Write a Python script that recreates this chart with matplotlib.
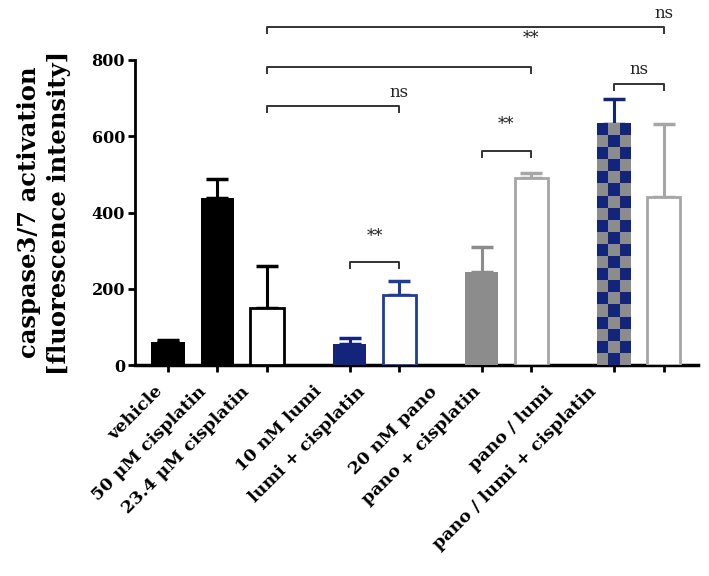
import matplotlib
matplotlib.use("Agg")
import matplotlib.pyplot as plt
from matplotlib.colors import ListedColormap
import numpy as np

# ---- data ----
categories = ["vehicle", "50 μM cisplatin", "23.4 μM cisplatin",
              "10 nM lumi", "lumi + cisplatin",
              "20 nM pano", "pano + cisplatin",
              "pano / lumi", "pano / lumi + cisplatin"]
positions = [0, 1, 2, 3.67, 4.67, 6.33, 7.33, 9, 10]
means = [62, 438, 150, 55, 184, 244, 490, 632, 442]
errors = [5, 50, 110, 16, 36, 66, 13, 66, 191]

# brackets: (left index, right index, height, label, label height, label position)
brackets = [
    (2, 8, 887, "ns", 900, "right"),
    (2, 6, 782, "**", 835, "right"),
    (2, 4, 680, "ns", 692, "right"),
    (3, 4, 270, "**", 315, "mid"),
    (5, 6, 562, "**", 608, "mid"),
    (7, 8, 737, "ns", 752, "mid"),
]

navy = "#12257a"
blue = "#1f3c99"
grey = "#8c8c8c"
lgrey = "#a6a6a6"
faces = ["black", "black", "white", navy, "white", grey, "white", "none", "white"]
edges = ["black", "black", "black", navy, blue, grey, lgrey, navy, lgrey]
ecols = ["black", "black", "black", navy, blue, grey, lgrey, navy, lgrey]

plt.rcParams["font.family"] = ["DejaVu Serif"]

fig = plt.figure(figsize=(7.09, 5.76), dpi=100)
ax = fig.add_axes([0.190, 0.366, 0.795, 0.530])

w = 0.67
for i, (x, m) in enumerate(zip(positions, means)):
    ax.bar(x, m, width=w, color=faces[i],
           edgecolor=edges[i] if faces[i] == "white" else "none",
           linewidth=2, zorder=3)
    ax.errorbar(x, m, yerr=[[0], [errors[i]]], fmt="none", ecolor=ecols[i],
                elinewidth=2.2, capsize=8, capthick=2.5, zorder=2)

# checkerboard bar (pano / lumi)
ci = 7
nrows, ncols = 20, 3
checker = (np.add.outer(np.arange(nrows), np.arange(ncols)) % 2)
cmap = ListedColormap([navy, grey])
ax.imshow(checker, cmap=cmap, aspect="auto", interpolation="nearest",
          extent=[positions[ci] - w / 2, positions[ci] + w / 2, 0, means[ci]],
          origin="upper", zorder=3)

ax.set_xlim(-0.67, 10.7)
ax.set_ylim(0, 800)
ax.set_yticks([0, 200, 400, 600, 800])
ax.set_xticks(positions)
ax.set_xticklabels([""] * len(positions))
for lab in ax.get_yticklabels():
    lab.set_fontsize(11.5)
    lab.set_fontweight("bold")
ax.tick_params(axis="y", length=5, width=2, pad=2)
ax.tick_params(axis="x", length=5, width=2, pad=3)
for s in ["top", "right"]:
    ax.spines[s].set_visible(False)
ax.spines["left"].set_linewidth(2)
ax.spines["bottom"].set_linewidth(2.5)

# category labels (set slightly tighter than bars, as in the reference)
for x, lab in zip(positions, categories):
    ax.text(x * 0.875 - 0.28, -0.058, lab, transform=ax.get_xaxis_transform(),
            rotation=45, ha="right", va="top", rotation_mode="anchor",
            fontsize=12.6, fontweight="bold")

ax.set_ylabel("caspase3/7 activation\n[fluorescence intensity]", fontsize=17.5,
              fontweight="bold", linespacing=1.3, labelpad=15)

tick = 16
for (a, b, h, lab, th, where) in brackets:
    xa, xb = positions[a], positions[b]
    ax.plot([xa, xa, xb, xb], [h - tick, h, h, h - tick], color="#333333",
            lw=1.4, clip_on=False, zorder=4)
    tx = xb if where == "right" else (xa + xb) / 2
    ax.text(tx, th, lab, ha="center", va="bottom", fontsize=12,
            color="#222222", clip_on=False)

fig.savefig("out.png", dpi=100)
